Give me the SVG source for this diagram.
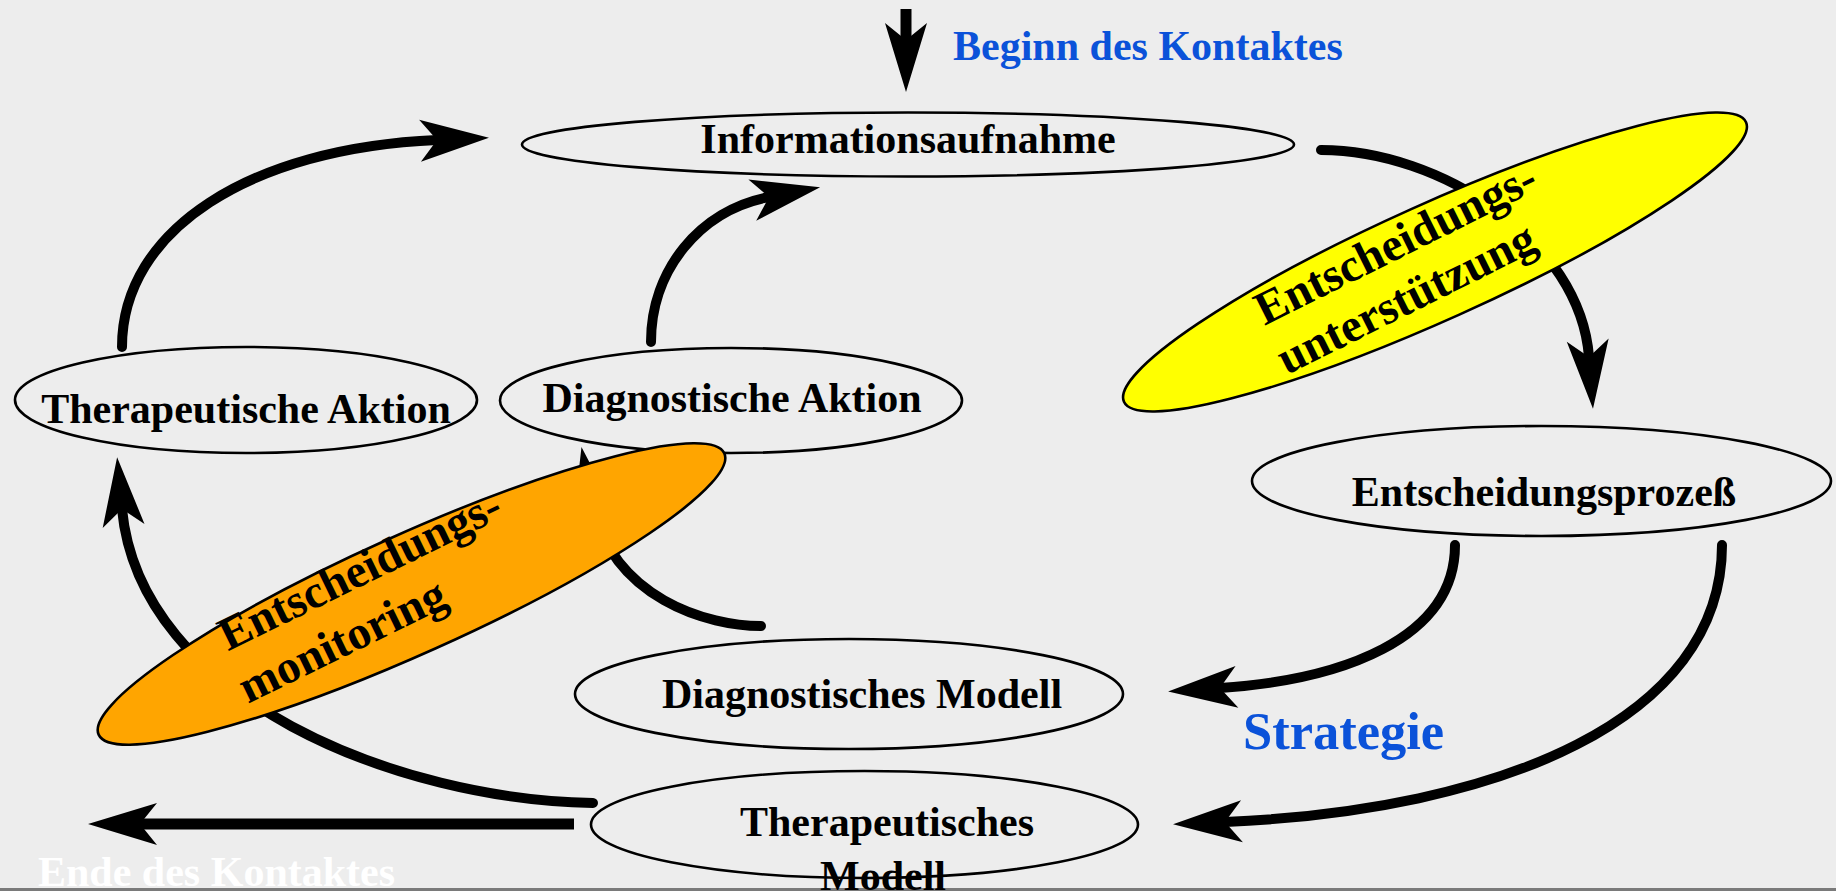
<svg xmlns="http://www.w3.org/2000/svg" width="1836" height="891" viewBox="0 0 1836 891">
<defs>
<style>
.node{fill:none;stroke:#000;stroke-width:2.6}
.lbl{font-family:"Liberation Serif","Times New Roman",serif;font-weight:bold;font-size:42px;fill:#000}
.big{font-size:47px}
.blue{fill:#0b52d9}
.wht{fill:#fff}
.con{fill:none;stroke:#000;stroke-width:10;stroke-linecap:round;marker-end:url(#ah)}
.str{fill:none;stroke:#000;stroke-width:11;stroke-linecap:butt;marker-end:url(#ah)}
</style>
<marker id="ah" markerUnits="userSpaceOnUse" viewBox="-20 -25 75 50" refX="0" refY="0" markerWidth="75" markerHeight="50" orient="auto" overflow="visible">
<path d="M-17,-21 L52,0 L-17,21 L0,0 Z" fill="#000"/>
</marker>
</defs>
<rect x="0" y="0" width="1836" height="891" fill="#ededed"/>
<rect x="0" y="888" width="1836" height="3" fill="#7a7a7a"/>

<g id="info">
<ellipse class="node" cx="908" cy="144.5" rx="386" ry="32"/>
<text class="lbl" x="908" y="153" text-anchor="middle">Informationsaufnahme</text>
</g>
<g id="ther-aktion">
<ellipse class="node" cx="246" cy="400" rx="231" ry="53"/>
<text class="lbl" x="246" y="423" text-anchor="middle">Therapeutische Aktion</text>
</g>
<g id="diag-aktion">
<ellipse class="node" cx="731" cy="400.5" rx="231" ry="52.5"/>
<text class="lbl" x="732" y="412" text-anchor="middle">Diagnostische Aktion</text>
</g>
<g id="prozess">
<ellipse class="node" cx="1541.5" cy="481" rx="289.5" ry="55"/>
<text class="lbl" x="1544" y="506" text-anchor="middle">Entscheidungsprozeß</text>
</g>
<g id="diag-modell">
<ellipse class="node" cx="849" cy="694" rx="274" ry="55"/>
<text class="lbl" x="862" y="708" text-anchor="middle">Diagnostisches Modell</text>
</g>
<g id="ther-modell">
<ellipse class="node" cx="864.5" cy="824.5" rx="273.5" ry="53.5"/>
<text class="lbl" x="887" y="836" text-anchor="middle">Therapeutisches</text>
<text class="lbl" x="883" y="890" text-anchor="middle">Modell</text>
</g>

<g id="labels">
<text class="lbl blue" x="953" y="60">Beginn des Kontaktes</text>
<text class="lbl blue" x="1243" y="749" style="font-size:52.5px">Strategie</text>
<text class="lbl wht" x="38" y="886">Ende des Kontaktes</text>
</g>

<g id="connectors">
<path class="str" d="M906,9 L906,40"/>
<path class="con" d="M122,347 C122,230 250,148 437,140"/>
<path class="con" d="M651,342 C651,270 700,210 769,197"/>
<path class="con" d="M1321,150 C1440,150 1580,240 1589,357"/>
<path class="con" d="M1455,545 C1455,640 1340,680 1220,688"/>
<path class="con" d="M1722,545 C1722,720 1500,810 1225,822"/>
<path class="con" d="M593,803 C400,800 140,700 122,509"/>
<path class="con" d="M761,626 C710,626 610,600 591,498"/>
<path class="str" d="M574,824 L140,824"/>
</g>

<g id="unterstuetzung">
<ellipse cx="1435" cy="262" rx="341" ry="58" transform="rotate(-24.2 1435 262)" fill="#ffff00" stroke="#000" stroke-width="2.6"/>
<g transform="translate(1435 262) rotate(-26.5)">
<text class="lbl big" x="-181" y="-19">Entscheidungs-</text>
<text class="lbl big" x="-183" y="35">unterstützung</text>
</g>
</g>
<g id="monitoring">
<ellipse cx="411.5" cy="594" rx="343" ry="59.5" transform="rotate(-24.2 411.5 594)" fill="#ffa500" stroke="#000" stroke-width="2.6"/>
<g transform="translate(411.5 594) rotate(-26)">
<text class="lbl big" x="-190" y="-29">Entscheidungs-</text>
<text class="lbl big" x="-195" y="27">monitoring</text>
</g>
</g>
</svg>
